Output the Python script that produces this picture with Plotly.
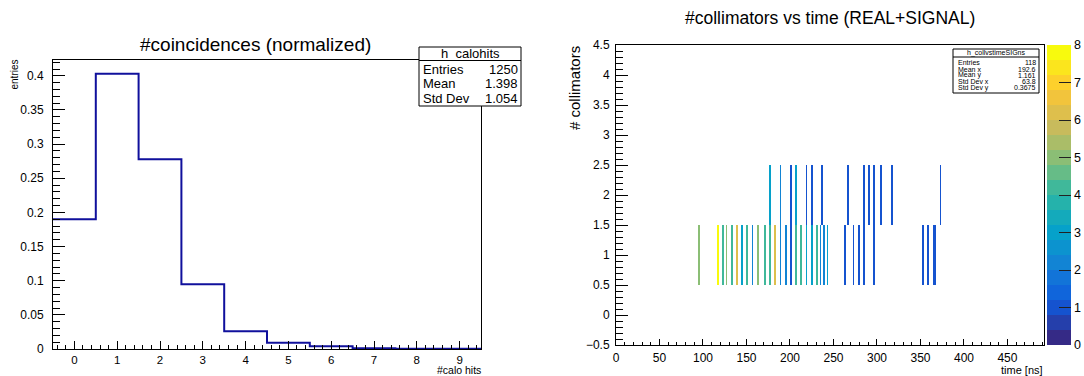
import numpy as np
import plotly.graph_objects as go

W, H = 1084, 376

# ---------------- data ----------------
# left: normalized #calo hits histogram (bin centers 0..9)
calo_bins = [0, 1, 2, 3, 4, 5, 6, 7, 8, 9]
calo_vals = [0.190, 0.403, 0.278, 0.095, 0.026, 0.009, 0.004, 0.001, 0.0005, 0.0003]

# right: collimator vs time (ns) 2D histogram, 2 ns bins
coll1_times = [95, 116, 122, 127, 133, 139, 145, 151, 157, 163, 170, 177, 182, 188, 194, 200,
               207, 212, 218, 224, 231, 235, 238, 243, 262, 273, 279, 285, 297, 352, 358, 364, 366]
coll1_counts = [5, 8, 4, 5, 4, 6, 3, 4, 2, 5, 4, 4, 6, 2, 2, 1,
                4, 4, 3, 3, 4, 2, 2, 3, 1, 1, 1, 1, 1, 1, 1, 1, 1]
coll2_times = [177, 188, 200, 207, 218, 224, 236, 267, 285, 290, 297, 305, 317, 372]
coll2_counts = [3, 2, 1, 3, 1, 1, 1, 1, 1, 1, 1, 1, 1, 1]

x_ticks_calo = [0, 1, 2, 3, 4, 5, 6, 7, 8, 9]
cbar_ticks = [0, 1, 2, 3, 4, 5, 6, 7, 8]

# ---------------- helpers ----------------
def px(x):
    return x / W

def py(y):
    return 1 - y / H

FONT = "Liberation Sans, Arial, Helvetica, sans-serif"

# kBird palette, 20 discrete levels
stops = [0.0, 0.125, 0.25, 0.375, 0.5, 0.625, 0.75, 0.875, 1.0]
red = [0.2082, 0.0592, 0.0780, 0.0232, 0.1802, 0.5301, 0.8186, 0.9956, 0.9764]
green = [0.1664, 0.3599, 0.5041, 0.6419, 0.7178, 0.7492, 0.7328, 0.7862, 0.9832]
blue = [0.5293, 0.8684, 0.8385, 0.7914, 0.6425, 0.4662, 0.3499, 0.1968, 0.0539]
NLEV = 20
cscale = []
for i in range(NLEV):
    f = i / (NLEV - 1)
    r = np.interp(f, stops, red) * 255
    g = np.interp(f, stops, green) * 255
    b = np.interp(f, stops, blue) * 255
    c = f"rgb({int(r)},{int(g)},{int(b)})"
    cscale.append([i / NLEV, c])
    cscale.append([(i + 1) / NLEV, c])

# build 2D histogram
bw = 2.0
xmax = 492.0
x_edges = np.arange(0, xmax + bw / 2, bw)
y_edges = np.arange(-0.5, 4.5 + 0.01, 1.0)
z = np.full((len(y_edges) - 1, len(x_edges) - 1), np.nan)
for times, counts, row in ((coll1_times, coll1_counts, 1), (coll2_times, coll2_counts, 2)):
    for t, c in zip(times, counts):
        j = int(t // bw)
        z[row, j] = (0 if np.isnan(z[row, j]) else z[row, j]) + c

# step outline for left histogram
edges = [b - 0.5 for b in calo_bins] + [calo_bins[-1] + 0.5]
step_y = list(calo_vals) + [calo_vals[-1]]

fig = go.Figure()
fig.add_trace(go.Scatter(
    x=edges, y=step_y, mode="lines", line=dict(color="#10109c", width=2, shape="hv"),
    xaxis="x", yaxis="y", showlegend=False, hoverinfo="skip"))

fig.add_trace(go.Heatmap(
    x=x_edges, y=y_edges, z=z, zmin=0, zmax=8, colorscale=cscale, xaxis="x2", yaxis="y2",
    showscale=True, hoverongaps=False,
    colorbar=dict(x=px(1047), xanchor="left", xpad=0, y=py(345), yanchor="bottom", ypad=0,
                  len=300, lenmode="pixels", thickness=24, thicknessmode="pixels",
                  outlinewidth=0, tickvals=cbar_ticks, ticks="inside", ticklen=12,
                  tickcolor="#222", tickwidth=1,
                  tickfont=dict(family=FONT, size=12.5, color="black"))))

axis_common = dict(showline=True, linecolor="black", linewidth=1, mirror=True,
                   ticks="inside", tickcolor="black", tickwidth=1, showgrid=False,
                   zeroline=False)
TF = dict(family=FONT, size=12, color="black")

fig.update_layout(
    width=W, height=H, margin=dict(l=0, r=0, t=0, b=0, autoexpand=False),
    paper_bgcolor="white", plot_bgcolor="white", showlegend=False,
    xaxis=dict(domain=[px(53), px(481)], range=[-0.5, 9.5], tickvals=x_ticks_calo,
               ticklen=8, minor=dict(ticks="inside", dtick=0.2, tick0=0, ticklen=4, tickcolor="black"),
               anchor="y", ticklabelstandoff=0, tickfont=dict(family=FONT, size=11.5, color="black"),
               **axis_common),
    yaxis=dict(domain=[py(349), py(60)], range=[0, 0.4232], dtick=0.05, tick0=0,
               ticklen=12, minor=dict(ticks="inside", dtick=0.01, tick0=0, ticklen=7, tickcolor="black"),
               anchor="x", ticklabelstandoff=6, tickfont=TF, **axis_common),
    xaxis2=dict(domain=[px(616), px(1044)], range=[0, xmax], dtick=50, tick0=0,
                ticklen=6, minor=dict(ticks="inside", dtick=10, tick0=0, ticklen=3, tickcolor="black"),
                anchor="y2", ticklabelstandoff=2, tickfont=TF, **axis_common),
    yaxis2=dict(domain=[py(345), py(45)], range=[-0.5, 4.5], dtick=0.5, tick0=0,
                ticklen=12, minor=dict(ticks="inside", dtick=0.1, tick0=0, ticklen=7, tickcolor="black"),
                anchor="x2", ticklabelstandoff=3, tickfont=TF, **axis_common),
)

ann = []
shapes = []

def A(text, x, y, size, xanchor="center", yanchor="middle", angle=0):
    ann.append(dict(text=text, x=px(x), y=py(y), xref="paper", yref="paper", showarrow=False,
                    textangle=angle, font=dict(family=FONT, size=size, color="black"),
                    xanchor=xanchor, yanchor=yanchor, borderpad=0))

# titles
A("#coincidences (normalized)", 255, 45, 19)
A("#collimators vs time (REAL+SIGNAL)", 830, 18, 17.5)
# axis titles
A("entries", 13.5, 59, 10, yanchor="top", angle=-90)
A("#calo hits", 482, 370, 10.5, xanchor="right")
A("time [ns]", 1044, 369.5, 11, xanchor="right")
A("# collimators", 575, 45, 15, yanchor="top", angle=-90)

# left stats box
L, R, T, B = 419, 521, 47, 106
shapes.append(dict(type="rect", xref="paper", yref="paper", x0=px(L), x1=px(R), y0=py(B), y1=py(T),
                   line=dict(color="black", width=1), fillcolor="white", layer="above"))
shapes.append(dict(type="line", xref="paper", yref="paper", x0=px(L), x1=px(R), y0=py(60.5), y1=py(60.5),
                   line=dict(color="black", width=1), layer="above"))
A("h_calohits", (L + R) / 2, 54, 13)
for lab, val, yy in (("Entries", "1250", 69), ("Mean", "1.398", 83.5), ("Std Dev", "1.054", 98)):
    A(lab, L + 3, yy, 13, xanchor="left")
    A(val, R - 2, yy, 13, xanchor="right")

# right stats box
L2, R2, T2, B2 = 953, 1039, 49, 93
shapes.append(dict(type="rect", xref="paper", yref="paper", x0=px(L2), x1=px(R2), y0=py(B2), y1=py(T2),
                   line=dict(color="black", width=1), fillcolor="white", layer="above"))
shapes.append(dict(type="line", xref="paper", yref="paper", x0=px(L2), x1=px(R2), y0=py(57), y1=py(57),
                   line=dict(color="black", width=1), layer="above"))
A("h_collvstimeSIGns", (L2 + R2) / 2, 53, 7)
for lab, val, yy in (("Entries", "118", 62.7), ("Mean x", "192.6", 69.2), ("Mean y", "1.161", 75.4),
                     ("Std Dev x", "63.8", 81.7), ("Std Dev y", "0.3675", 87.7)):
    A(lab, L2 + 4, yy, 7, xanchor="left")
    A(val, R2 - 2, yy, 7, xanchor="right")

fig.update_layout(annotations=ann, shapes=shapes)
fig.write_html("out.html")
